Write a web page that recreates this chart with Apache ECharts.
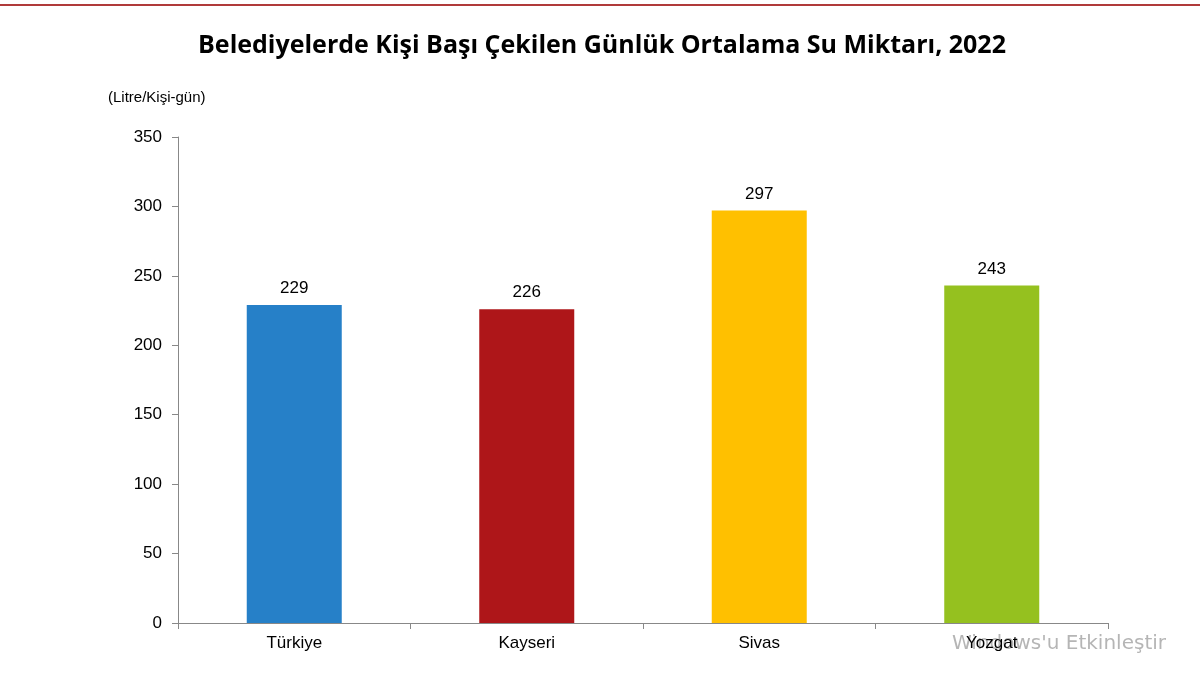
<!DOCTYPE html>
<html><head><meta charset="utf-8">
<script src="https://cdn.jsdelivr.net/npm/echarts@6/dist/echarts.min.js"></script>
<style>html,body{margin:0;padding:0;background:#fff}#c{width:1200px;height:675px}</style>
</head><body><div id="c"></div>
<script>
const categories = ["Türkiye", "Kayseri", "Sivas", "Yozgat"];
const values = [229, 226, 297, 243];
const colors = ["#2680C8", "#AE1619", "#FFC000", "#95C11F"];
const chart = echarts.init(document.getElementById('c'));
chart.setOption({
  animation: false,
  backgroundColor: '#fff',
  title: {text: 'Belediyelerde Kişi Başı Çekilen Günlük Ortalama Su Miktarı, 2022', left: 597, top: 28, textAlign: 'center',
    textStyle: {fontFamily: 'Open Sans', fontWeight: 'bold', fontSize: 25, color: '#000'}},
  graphic: [
    {type: 'rect', shape: {x: 0, y: 4, width: 1200, height: 2}, style: {fill: '#B03A3A'}},
    {type: 'text', left: 108, top: 90, style: {text: '(Litre/Kişi-gün)', font: '15px Liberation Sans', fill: '#000'}},
    {type: 'text', left: 952, top: 634, style: {text: "Windows'u Etkinleştir", font: '20px DejaVu Sans', fill: 'rgba(120,120,120,0.55)'}}
  ],
  grid: {left: 178, right: 92, top: 137, bottom: 52},
  xAxis: {type: 'category', data: categories,
    axisLine: {lineStyle: {color: '#888'}}, axisTick: {show: true, length: 6, lineStyle: {color: '#888'}},
    axisLabel: {color: '#000', fontSize: 17, fontFamily: 'Liberation Sans', margin: 12}},
  yAxis: {type: 'value', min: 0, max: 350, interval: 50,
    axisLine: {show: true, lineStyle: {color: '#888'}}, axisTick: {show: true, length: 6, lineStyle: {color: '#888'}},
    splitLine: {show: false},
    axisLabel: {color: '#000', fontSize: 17, fontFamily: 'Liberation Sans', margin: 16}},
  series: [{type: 'bar', barWidth: 95,
    data: values.map((v, i) => ({value: v, itemStyle: {color: colors[i]}})),
    label: {show: true, position: 'top', color: '#000', fontSize: 17, fontFamily: 'Liberation Sans', distance: 8}}]
});
</script></body></html>
